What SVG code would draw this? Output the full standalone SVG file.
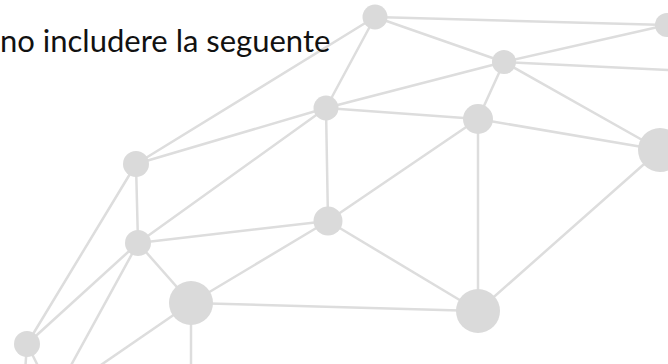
<svg xmlns="http://www.w3.org/2000/svg" width="668" height="364" viewBox="0 0 668 364">
<style>
.e{stroke:#dddddd;stroke-width:2.5;fill:none;stroke-linecap:round}
.n{fill:#dadada}
.t{font-family:Lato,"Liberation Sans",sans-serif;font-size:31px;fill:#111}
</style>
<rect width="668" height="364" fill="#ffffff"/>
<g id="connectors">
<line class="e" x1="375" y1="17" x2="667" y2="25"/>
<line class="e" x1="375" y1="17" x2="504" y2="62"/>
<line class="e" x1="375" y1="17" x2="326" y2="108"/>
<line class="e" x1="375" y1="17" x2="136" y2="164"/>
<line class="e" x1="504" y1="62" x2="667" y2="25"/>
<line class="e" x1="504" y1="62" x2="690" y2="71"/>
<line class="e" x1="504" y1="62" x2="478" y2="119"/>
<line class="e" x1="504" y1="62" x2="660" y2="150"/>
<line class="e" x1="504" y1="62" x2="326" y2="108"/>
<line class="e" x1="326" y1="108" x2="478" y2="119"/>
<line class="e" x1="326" y1="108" x2="136" y2="164"/>
<line class="e" x1="326" y1="108" x2="138" y2="243"/>
<line class="e" x1="326" y1="108" x2="328" y2="221"/>
<line class="e" x1="478" y1="119" x2="660" y2="150"/>
<line class="e" x1="478" y1="119" x2="478" y2="311"/>
<line class="e" x1="478" y1="119" x2="328" y2="221"/>
<line class="e" x1="136" y1="164" x2="138" y2="243"/>
<line class="e" x1="136" y1="164" x2="27" y2="344"/>
<line class="e" x1="138" y1="243" x2="328" y2="221"/>
<line class="e" x1="138" y1="243" x2="191" y2="303"/>
<line class="e" x1="138" y1="243" x2="27" y2="344"/>
<line class="e" x1="138" y1="243" x2="52" y2="400"/>
<line class="e" x1="328" y1="221" x2="191" y2="303"/>
<line class="e" x1="328" y1="221" x2="478" y2="311"/>
<line class="e" x1="191" y1="303" x2="478" y2="311"/>
<line class="e" x1="191" y1="303" x2="50" y2="400"/>
<line class="e" x1="191" y1="303" x2="191" y2="400"/>
<line class="e" x1="660" y1="150" x2="478" y2="311"/>
<line class="e" x1="27" y1="344" x2="23" y2="400"/>
<line class="e" x1="27" y1="344" x2="55" y2="400"/>
</g>
<g id="node-a"><circle class="n" cx="375" cy="17" r="12.5"/></g>
<g id="node-b"><circle class="n" cx="667" cy="25" r="12"/></g>
<g id="node-c"><circle class="n" cx="504" cy="62" r="12"/></g>
<g id="node-d"><circle class="n" cx="326" cy="108" r="12.5"/></g>
<g id="node-e"><circle class="n" cx="478" cy="119" r="15"/></g>
<g id="node-f"><circle class="n" cx="660" cy="150" r="22"/></g>
<g id="node-g"><circle class="n" cx="136" cy="164" r="13"/></g>
<g id="node-h"><circle class="n" cx="138" cy="243" r="13"/></g>
<g id="node-i"><circle class="n" cx="328" cy="221" r="14.5"/></g>
<g id="node-j"><circle class="n" cx="191" cy="303" r="22"/></g>
<g id="node-k"><circle class="n" cx="27" cy="344" r="13"/></g>
<g id="node-l"><circle class="n" cx="478" cy="311" r="22"/></g>
<text class="t" x="0" y="52">no includere la seguente</text>
</svg>
